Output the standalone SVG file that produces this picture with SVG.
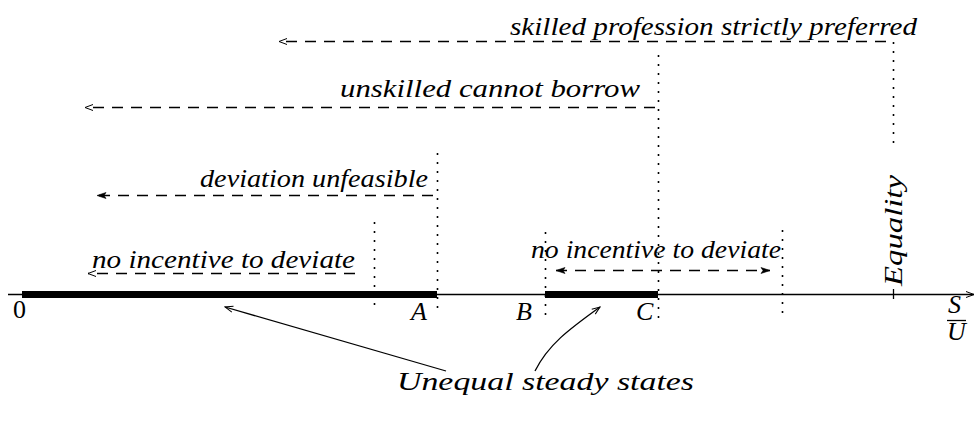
<svg xmlns="http://www.w3.org/2000/svg" width="977" height="421" viewBox="0 0 977 421">
<defs>
<marker id="ah" markerWidth="10" markerHeight="8" refX="9" refY="4" orient="auto-start-reverse" markerUnits="userSpaceOnUse">
<path d="M1,1 L9,4 L1,7" fill="none" stroke="#000" stroke-width="1"/>
</marker>
<marker id="ahf" markerWidth="12" markerHeight="8" refX="10" refY="4" orient="auto-start-reverse" markerUnits="userSpaceOnUse">
<path d="M1,1 L10,4 L1,7 L3,4 Z" fill="#000" stroke="#000" stroke-width="0.6"/>
</marker>
</defs>
<style>
.t{font-family:'Liberation Serif',serif;font-style:italic;font-size:26px;fill:#000}
.u{font-family:'Liberation Serif',serif;font-size:26px;fill:#000}
.dash{stroke:#000;stroke-width:1.3;fill:none;stroke-dasharray:11 8}
.dot{stroke:#000;stroke-width:1.6;fill:none;stroke-dasharray:2 7}
.bar{stroke:#000;stroke-width:7;fill:none}
.ln{stroke:#000;stroke-width:1.3;fill:none}
</style>
<g id="axis">
<line class="ln" x1="8" y1="294.5" x2="974" y2="294.5" marker-end="url(#ah)"/>
<line class="ln" x1="893.5" y1="289" x2="893.5" y2="299"/>
<line class="bar" x1="22" y1="294.5" x2="437" y2="294.5"/>
<line class="bar" x1="545" y1="294.5" x2="658" y2="294.5"/>
<text class="u" x="13" y="318">0</text>
<text class="t" x="411" y="320">A</text>
<text class="t" x="516" y="320">B</text>
<text class="t" x="636" y="320">C</text>
<text class="t" x="948" y="313" font-size="19">S</text>
<line class="ln" x1="947" y1="320.5" x2="966" y2="320.5"/>
<text class="t" x="947" y="340" font-size="19">U</text>
<text class="t" transform="translate(902,286) rotate(-90)" textLength="111" lengthAdjust="spacingAndGlyphs">Equality</text>
</g>
<g id="guides">
<line class="dot" x1="893.5" y1="42" x2="893.5" y2="150"/>
<line class="dot" x1="658.5" y1="55" x2="658.5" y2="318"/>
<line class="dot" x1="437.5" y1="153" x2="437.5" y2="310"/>
<line class="dot" x1="374.5" y1="222" x2="374.5" y2="310"/>
<line class="dot" x1="545.5" y1="232" x2="545.5" y2="318"/>
<line class="dot" x1="782.5" y1="230" x2="782.5" y2="313"/>
</g>
<g id="connectors">
<line class="dash" x1="886" y1="41.5" x2="279" y2="41.5" marker-end="url(#ah)"/>
<line class="dash" x1="655" y1="107.5" x2="85" y2="107.5" marker-end="url(#ah)"/>
<line class="dash" x1="433" y1="195.5" x2="97" y2="195.5" marker-end="url(#ahf)"/>
<line class="dash" x1="355" y1="273.5" x2="88" y2="273.5" marker-end="url(#ah)"/>
<line class="dash" x1="556" y1="270.5" x2="770" y2="270.5" marker-start="url(#ahf)" marker-end="url(#ahf)"/>
<line class="ln" x1="446" y1="371" x2="225" y2="307" marker-end="url(#ah)"/>
<path class="ln" d="M535,371 C548,345 568,330 600,307" marker-end="url(#ah)"/>
</g>
<g id="labels">
<text class="t" x="510" y="35" textLength="407" lengthAdjust="spacingAndGlyphs">skilled profession strictly preferred</text>
<text class="t" x="340" y="97" textLength="300" lengthAdjust="spacingAndGlyphs">unskilled cannot borrow</text>
<text class="t" x="200" y="187" textLength="228" lengthAdjust="spacingAndGlyphs">deviation unfeasible</text>
<text class="t" x="92" y="268" textLength="263" lengthAdjust="spacingAndGlyphs">no incentive to deviate</text>
<text class="t" x="531" y="258" textLength="250" lengthAdjust="spacingAndGlyphs">no incentive to deviate</text>
<text class="t" x="397" y="390" textLength="297" lengthAdjust="spacingAndGlyphs">Unequal steady states</text>
</g>
</svg>
